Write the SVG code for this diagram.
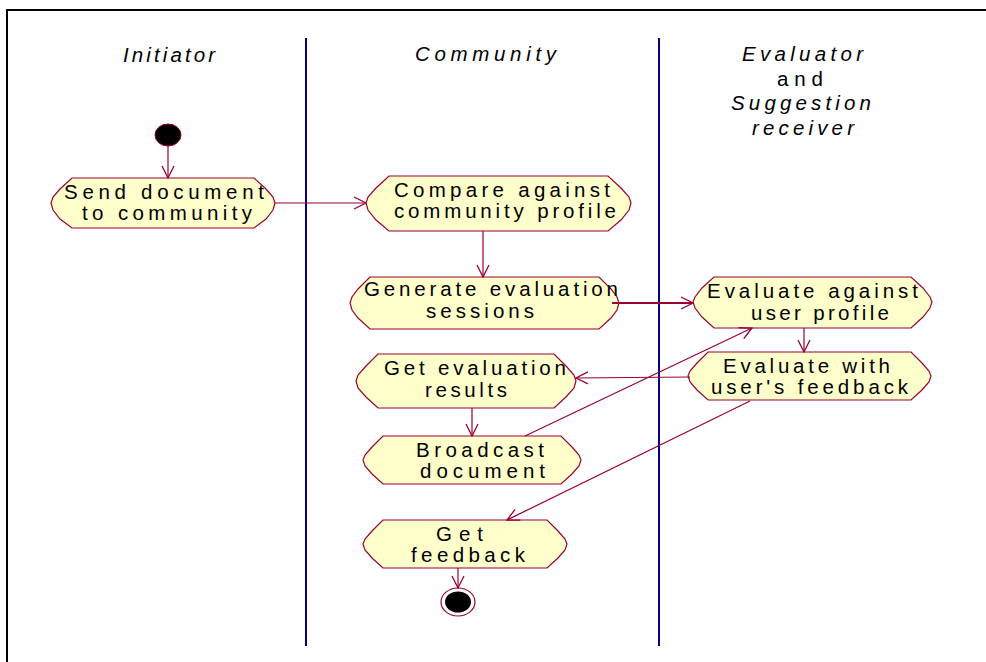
<svg xmlns="http://www.w3.org/2000/svg" width="986" height="662" viewBox="0 0 986 662">
<style>
  .node path { fill: #ffffcc; stroke: #990033; stroke-width: 1.2; }
  .node text, .title { font-family: "Liberation Sans", Arial, sans-serif; fill: #000; }
  .node text { font-size: 20.5px; }
  .title { font-size: 20.5px; font-style: italic; }
  .title.up { font-style: normal; }
  .lane { stroke: #000080; stroke-width: 2; }
  .conn line { stroke: #990033; stroke-width: 1.2; fill: none; marker-end: url(#arr); }
  .conn line.thick { stroke-width: 2; }
</style>
<defs>
  <marker id="arr" markerUnits="userSpaceOnUse" markerWidth="14" markerHeight="14" viewBox="0 0 14 14" refX="13" refY="7" orient="auto">
    <path d="M1,1 L13,7 L1,13" fill="none" stroke="#990033" stroke-width="1.3"/>
  </marker>
</defs>
<rect x="0" y="0" width="986" height="662" fill="#fff"/>
<!-- frame -->
<path d="M7,662 V10 H986" fill="none" stroke="#000" stroke-width="2"/>
<!-- swimlanes -->
<g id="lanes">
  <line class="lane" x1="306" y1="38" x2="306" y2="646"/>
  <line class="lane" x1="659" y1="38" x2="659" y2="646"/>
  <text class="title" x="123" y="62" textLength="92" lengthAdjust="spacing">Initiator</text>
  <text class="title" x="415" y="61" textLength="141" lengthAdjust="spacing">Community</text>
  <text class="title" x="742" y="61" textLength="121" lengthAdjust="spacing">Evaluator</text>
  <text class="title up" x="777" y="86" textLength="46" lengthAdjust="spacing">and</text>
  <text class="title" x="731" y="110" textLength="140" lengthAdjust="spacing">Suggestion</text>
  <text class="title" x="752" y="135" textLength="102" lengthAdjust="spacing">receiver</text>
</g>
<!-- start / end states -->
<g id="start">
  <ellipse cx="168" cy="135" rx="13" ry="11" fill="#000" stroke="#990033" stroke-width="1"/>
</g>
<g id="end">
  <ellipse cx="458" cy="602" rx="17" ry="14" fill="#fff" stroke="#990033" stroke-width="1.2"/>
  <ellipse cx="458" cy="602" rx="13" ry="10.5" fill="#000"/>
</g>
<!-- nodes -->
<g id="send" class="node">
  <path d="M72,178 H254 L266,189 L273,197 L275,203 L273,210 L266,219 L254,228 H72 L60,219 L53,210 L51,203 L53,197 L60,189 Z"/>
  <text x="64" y="199" textLength="200" lengthAdjust="spacing">Send document</text>
  <text x="82" y="220" textLength="170" lengthAdjust="spacing">to community</text>
</g>
<g id="compare" class="node">
  <path d="M389,176 H608 L621,188 L629,197 L631,203 L629,210 L621,220 L608,231 H389 L376,220 L368,210 L366,203 L368,197 L376,188 Z"/>
  <text x="394" y="197" textLength="216" lengthAdjust="spacing">Compare against</text>
  <text x="394" y="218" textLength="222" lengthAdjust="spacing">community profile</text>
</g>
<g id="generate" class="node">
  <path d="M370,277 H599 L611,289 L617,297 L619,303 L617,310 L611,318 L599,329 H370 L358,318 L352,310 L350,303 L352,297 L358,289 Z"/>
  <text x="364" y="296" textLength="254" lengthAdjust="spacing">Generate evaluation</text>
  <text x="426" y="318" textLength="108" lengthAdjust="spacing">sessions</text>
</g>
<g id="getresults" class="node">
  <path d="M378,354 H554 L566,366 L574,375 L576,381 L574,388 L566,397 L554,408 H378 L366,397 L358,388 L356,381 L358,375 L366,366 Z"/>
  <text x="384" y="375" textLength="182" lengthAdjust="spacing">Get evaluation</text>
  <text x="425" y="397" textLength="82" lengthAdjust="spacing">results</text>
</g>
<g id="broadcast" class="node">
  <path d="M383,436 H561 L572,447 L579,455 L581,460 L579,466 L572,474 L561,484 H383 L372,474 L365,466 L363,460 L365,455 L372,447 Z"/>
  <text x="416" y="457" textLength="128" lengthAdjust="spacing">Broadcast</text>
  <text x="420" y="478" textLength="125" lengthAdjust="spacing">document</text>
</g>
<g id="getfeedback" class="node">
  <path d="M383,520 H547 L558,531 L565,539 L567,544 L565,550 L558,558 L547,568 H383 L372,558 L365,550 L363,544 L365,539 L372,531 Z"/>
  <text x="436" y="541" textLength="47" lengthAdjust="spacing">Get</text>
  <text x="411" y="562" textLength="114" lengthAdjust="spacing">feedback</text>
</g>
<g id="evalprofile" class="node">
  <path d="M714,277 H911 L923,288 L930,297 L932,302 L930,308 L923,317 L911,328 H714 L702,317 L695,308 L693,302 L695,297 L702,288 Z"/>
  <text x="707" y="298" textLength="211" lengthAdjust="spacing">Evaluate against</text>
  <text x="751" y="320" textLength="138" lengthAdjust="spacing">user profile</text>
</g>
<g id="evalfeedback" class="node">
  <path d="M708,352 H911 L922,363 L929,371 L931,376 L929,382 L922,390 L911,400 H708 L697,390 L690,382 L688,376 L690,371 L697,363 Z"/>
  <text x="723" y="373" textLength="167" lengthAdjust="spacing">Evaluate with</text>
  <text x="711" y="394" textLength="197" lengthAdjust="spacing">user's feedback</text>
</g>
<!-- connectors -->
<g id="connectors" class="conn">
  <line x1="168" y1="146" x2="168" y2="178"/>
  <line x1="275" y1="203" x2="366" y2="203"/>
  <line x1="483" y1="231" x2="483" y2="277"/>
  <line class="thick" x1="612" y1="303" x2="693" y2="303"/>
  <line x1="804" y1="328" x2="804" y2="352"/>
  <line x1="690" y1="377" x2="576" y2="378"/>
  <line x1="472" y1="408" x2="472" y2="436"/>
  <line x1="525" y1="436" x2="752" y2="328"/>
  <line x1="750" y1="401" x2="507" y2="520"/>
  <line x1="458" y1="568" x2="458" y2="588"/>
</g>
</svg>
